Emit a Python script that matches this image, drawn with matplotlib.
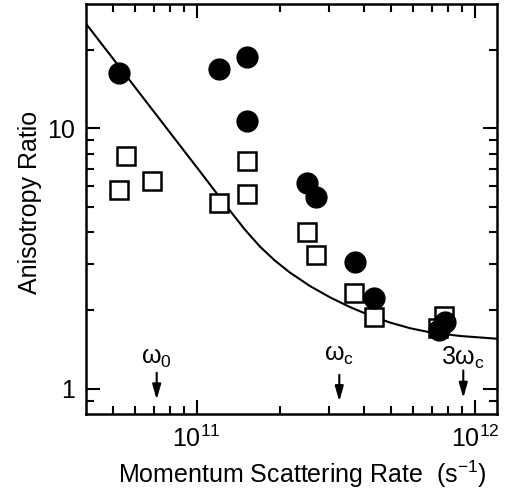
import matplotlib
matplotlib.use('Agg')
import matplotlib.pyplot as plt
from matplotlib.ticker import NullFormatter

plt.rcParams['font.family'] = ['Liberation Sans', 'DejaVu Sans']
plt.rcParams['mathtext.fontset'] = 'custom'
plt.rcParams['mathtext.rm'] = 'Liberation Sans'
plt.rcParams['mathtext.it'] = 'Liberation Sans:italic'
plt.rcParams['mathtext.bf'] = 'Liberation Sans:bold'

# ---- data ----
circle_x = [5.26e10, 1.203e11, 1.512e11, 1.512e11, 2.485e11, 2.684e11,
            3.706e11, 4.347e11, 7.41e11, 7.835e11]
circle_y = [16.29, 16.93, 18.77, 10.66, 6.14, 5.455, 3.074, 2.238, 1.679, 1.798]

square_x = [5.26e10, 5.56e10, 6.93e10, 1.201e11, 1.522e11, 1.522e11,
            2.501e11, 2.69e11, 3.685e11, 4.347e11, 7.77e11, 7.39e11]
square_y = [5.79, 7.83, 6.27, 5.147, 7.475, 5.578, 3.99, 3.253, 2.339, 1.892,
            1.896, 1.716]

curve_x = [4.0e10, 5.258e10, 6.796e10, 1.0278e11, 1.3175e11, 1.4915e11,
           1.6887e11, 1.9111e11, 2.1637e11, 2.5535e11, 3.013e11, 3.5538e11,
           4.1945e11, 4.9512e11, 5.8425e11, 6.8905e11, 8.834e11, 1.2e12]
curve_y = [25.2, 17.27, 12.10, 6.823, 4.822, 4.076, 3.512, 3.102, 2.792, 2.479,
           2.244, 2.059, 1.912, 1.7955, 1.708, 1.6468, 1.5946, 1.556]

marker_labels = [r'$\mathregular{\omega_0}$', r'$\mathregular{\omega_c}$',
                 r'$\mathregular{3\omega_c}$']
marker_x = [7.18e10, 3.254e11, 9.08e11]
arrow_top = [1.152, 1.131, 1.175]
arrow_tip = [0.908, 0.894, 0.921]
label_y = [1.183, 1.217, 1.175]

xtick_major = [1e11, 1e12]
xtick_labels = [r'$\mathregular{10^{11}}$', r'$\mathregular{10^{12}}$']
xtick_minor = [5e10, 6e10, 7e10, 8e10, 9e10, 2e11, 3e11, 4e11, 5e11, 6e11,
               7e11, 8e11, 9e11]
ytick_major = [1, 10]
ytick_labels = ['1', '10']
ytick_minor = [0.9, 2, 3, 4, 5, 6, 7, 8, 9, 20]

# ---- figure ----
fig = plt.figure(figsize=(5.08, 4.97), dpi=100)
ax = fig.add_axes([0.1693, 0.167, 0.809, 0.825])

ax.plot(curve_x, curve_y, color='black', lw=1.5, zorder=2)
ax.plot(square_x, square_y, ls='none', marker='s', ms=12.5, mfc='white',
        mec='black', mew=1.8, zorder=3)
ax.plot(circle_x, circle_y, ls='none', marker='o', ms=15, mfc='black',
        mec='black', zorder=4)

ax.set_xscale('log')
ax.set_yscale('log')
ax.set_xlim(4.0e10, 1.2e12)
ax.set_ylim(0.8, 30)

ax.set_xticks(xtick_major, labels=xtick_labels)
ax.set_xticks(xtick_minor, minor=True)
ax.xaxis.set_minor_formatter(NullFormatter())
ax.set_yticks(ytick_major, labels=ytick_labels)
ax.set_yticks(ytick_minor, minor=True)
ax.yaxis.set_minor_formatter(NullFormatter())

ax.tick_params(which='both', direction='in', top=True, right=True, width=1.5)
ax.tick_params(which='major', length=10, labelsize=18, pad=8)
ax.tick_params(which='minor', length=6)
for s in ax.spines.values():
    s.set_linewidth(1.8)

for lab, x, t0, t1, ly in zip(marker_labels, marker_x, arrow_top, arrow_tip, label_y):
    ax.annotate('', xy=(x, t1), xytext=(x, t0),
                arrowprops=dict(arrowstyle='-|>,head_length=0.6,head_width=0.17',
                                color='black', lw=1.5, shrinkA=0, shrinkB=0,
                                mutation_scale=15))
    ax.text(x, ly, lab, ha='center', va='bottom', fontsize=18)

ax.set_xlabel(r'Momentum Scattering Rate  (s$^{\mathregular{-1}}$)', fontsize=18)
ax.set_ylabel('Anisotropy Ratio', fontsize=18)
ax.xaxis.set_label_coords(0.527, -0.108)
ax.yaxis.set_label_coords(-0.107, 0.515)

fig.savefig('out.png', dpi=100)
